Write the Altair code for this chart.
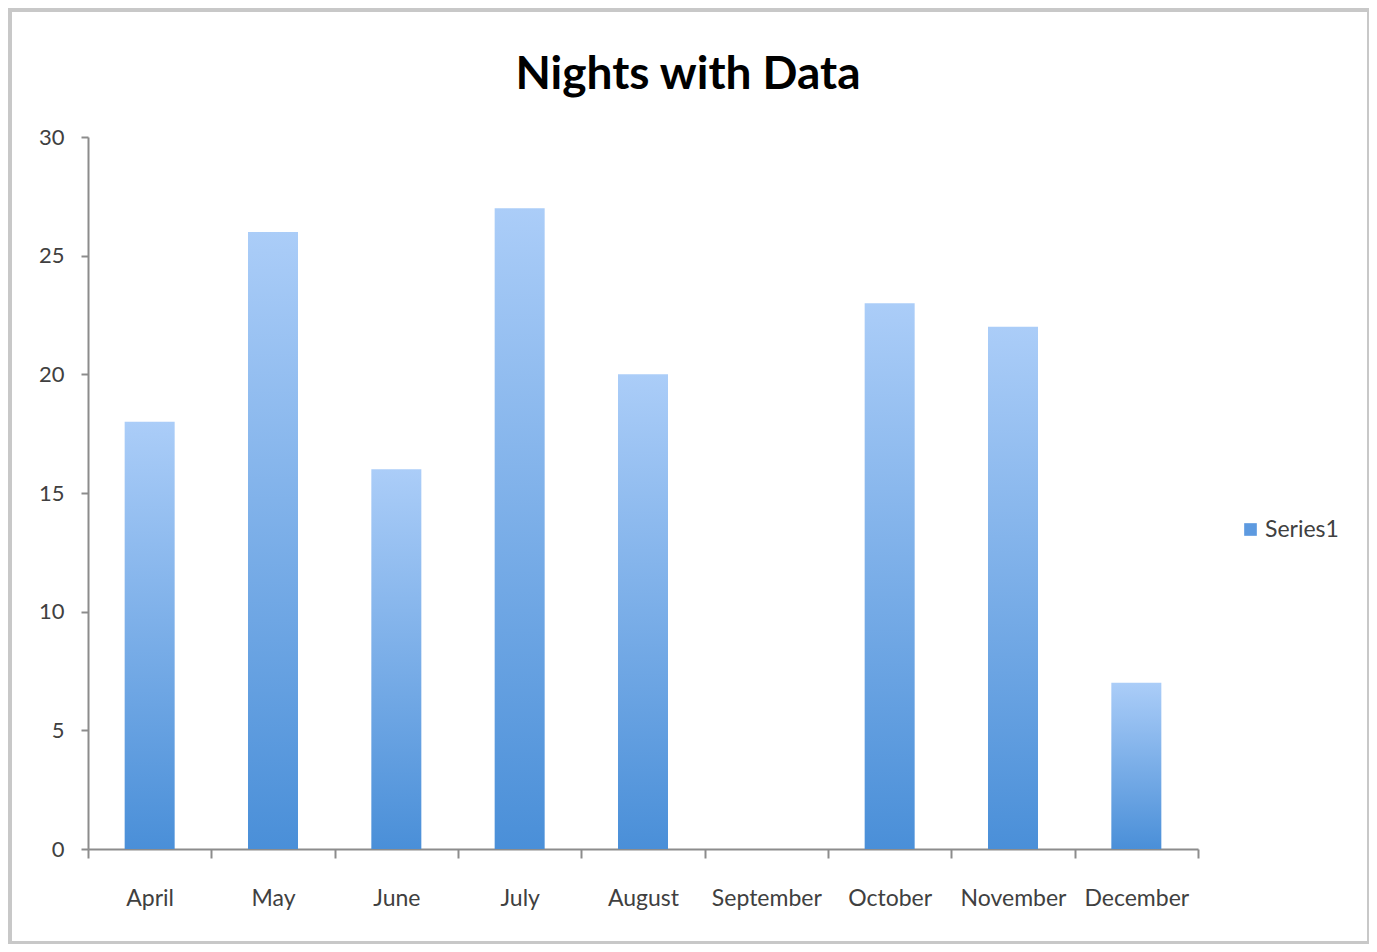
import altair as alt
import pandas as pd

months = ["April", "May", "June", "July", "August", "September", "October", "November", "December"]
nights = [18, 26, 16, 27, 20, 0, 23, 22, 7]
series = ["Series1"] * len(months)
y_ticks = [0, 5, 10, 15, 20, 25, 30]
title_text = "Nights with Data"

df = pd.DataFrame({"month": months, "nights": nights, "series": series})

FONT = "Lato"
AXIS = "#8c8c8c"

grad = alt.LinearGradient(
    gradient="linear",
    x1=0, y1=0, x2=0, y2=1,
    stops=[alt.GradientStop(offset=0, color="#abcdf8"),
           alt.GradientStop(offset=1, color="#4a8fd8")],
)

x_enc = alt.X("month:N", sort=months, title=None,
              scale=alt.Scale(paddingInner=0, paddingOuter=0),
              axis=alt.Axis(labelAngle=0, tickBand="extent", tickSize=9,
                            labelPadding=29, labelFontSize=23, labelFont=FONT,
                            labelColor="#404040", domainColor=AXIS, tickColor=AXIS,
                            domainWidth=2, tickWidth=2))
y_enc = alt.Y("nights:Q", title=None,
              scale=alt.Scale(domain=[0, 30], nice=False),
              axis=alt.Axis(values=y_ticks, grid=False, tickSize=7, labelPadding=17,
                            labelFontSize=22, labelFont=FONT, labelColor="#404040",
                            domainColor=AXIS, tickColor=AXIS, domainWidth=2, tickWidth=2))

bars = alt.Chart(df).mark_bar(size=50, fill=grad).encode(x=x_enc, y=y_enc)

legend_layer = alt.Chart(df).mark_point(filled=True, shape="square", size=0, opacity=0).encode(
    x=alt.X("month:N", sort=months),
    y=alt.Y("nights:Q"),
    color=alt.Color("series:N", title=None,
                    scale=alt.Scale(range=["#5d9ae0"]),
                    legend=alt.Legend(orient="none", legendX=1151, legendY=381,
                                      symbolType="square", symbolSize=160,
                                      symbolOpacity=1, symbolFillColor="#5d9ae0",
                                      labelFont=FONT, labelFontSize=23,
                                      labelColor="#404040", labelOffset=3,
                                      padding=0, symbolStrokeWidth=0)),
)

frame = alt.Chart(alt.Data(values=[{}])).mark_rect(
    fill="transparent", stroke="#c8c8c8", strokeWidth=4, clip=False
).encode(
    x=alt.value(-78), x2=alt.value(1281),
    y=alt.value(-127), y2=alt.value(806),
)

title = alt.Chart(alt.Data(values=[{"t": title_text}])).mark_text(
    font=FONT, fontSize=46, fontWeight="bold", color="#000000",
    align="center", baseline="alphabetic",
).encode(text="t:N", x=alt.value(600), y=alt.value(-48))

chart = alt.layer(frame, bars, legend_layer, title).properties(
    width=1110, height=712,
    padding={"left": 80, "top": 129, "right": 171, "bottom": 95},
    autosize=alt.AutoSizeParams(type="none"),
).configure_view(stroke=None)

chart.save("out.html", embed_options={"renderer": "svg", "actions": False})
